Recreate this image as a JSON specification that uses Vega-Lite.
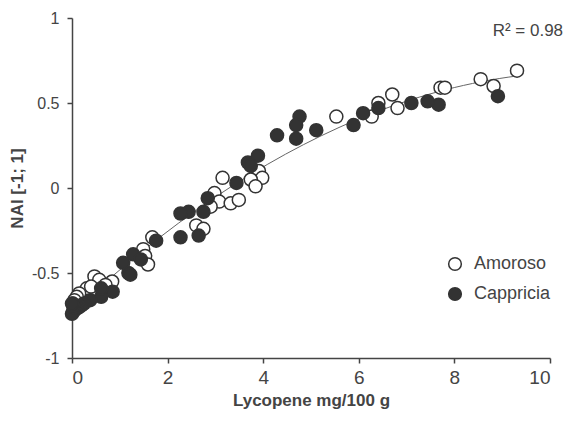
{
  "$schema": "https://vega.github.io/schema/vega-lite/v6.json",
  "width": 478,
  "height": 340,
  "autosize": {"type": "none"},
  "padding": {"left": 72, "top": 18, "right": 26, "bottom": 63},
  "background": "white",
  "config": {
    "view": {"stroke": null},
    "font": "Liberation Sans",
    "axis": {"grid": false, "domainColor": "#444", "domainWidth": 1.5, "tickColor": "#444", "tickWidth": 1.5, "tickSize": 5, "labelColor": "#444", "titleColor": "#444", "labelFont": "Liberation Sans", "titleFont": "Liberation Sans"}
  },
  "datasets": {
    "pts": [
      {"Lyc": 9.31, "NAI": 0.69, "Cultivar": "Amoroso"},
      {"Lyc": 8.55, "NAI": 0.64, "Cultivar": "Amoroso"},
      {"Lyc": 8.82, "NAI": 0.6, "Cultivar": "Amoroso"},
      {"Lyc": 7.71, "NAI": 0.59, "Cultivar": "Amoroso"},
      {"Lyc": 7.8, "NAI": 0.59, "Cultivar": "Amoroso"},
      {"Lyc": 6.7, "NAI": 0.55, "Cultivar": "Amoroso"},
      {"Lyc": 6.41, "NAI": 0.5, "Cultivar": "Amoroso"},
      {"Lyc": 6.81, "NAI": 0.47, "Cultivar": "Amoroso"},
      {"Lyc": 6.27, "NAI": 0.42, "Cultivar": "Amoroso"},
      {"Lyc": 5.53, "NAI": 0.42, "Cultivar": "Amoroso"},
      {"Lyc": 3.91, "NAI": 0.1, "Cultivar": "Amoroso"},
      {"Lyc": 3.98, "NAI": 0.06, "Cultivar": "Amoroso"},
      {"Lyc": 3.74, "NAI": 0.05, "Cultivar": "Amoroso"},
      {"Lyc": 3.84, "NAI": 0.01, "Cultivar": "Amoroso"},
      {"Lyc": 3.15, "NAI": 0.06, "Cultivar": "Amoroso"},
      {"Lyc": 2.98, "NAI": -0.03, "Cultivar": "Amoroso"},
      {"Lyc": 3.08, "NAI": -0.08, "Cultivar": "Amoroso"},
      {"Lyc": 2.9, "NAI": -0.11, "Cultivar": "Amoroso"},
      {"Lyc": 3.32, "NAI": -0.09, "Cultivar": "Amoroso"},
      {"Lyc": 3.49, "NAI": -0.07, "Cultivar": "Amoroso"},
      {"Lyc": 2.6, "NAI": -0.22, "Cultivar": "Amoroso"},
      {"Lyc": 2.75, "NAI": -0.24, "Cultivar": "Amoroso"},
      {"Lyc": 1.68, "NAI": -0.29, "Cultivar": "Amoroso"},
      {"Lyc": 1.49, "NAI": -0.36, "Cultivar": "Amoroso"},
      {"Lyc": 1.53, "NAI": -0.4, "Cultivar": "Amoroso"},
      {"Lyc": 1.59, "NAI": -0.45, "Cultivar": "Amoroso"},
      {"Lyc": 0.47, "NAI": -0.52, "Cultivar": "Amoroso"},
      {"Lyc": 0.57, "NAI": -0.54, "Cultivar": "Amoroso"},
      {"Lyc": 0.84, "NAI": -0.55, "Cultivar": "Amoroso"},
      {"Lyc": 0.31, "NAI": -0.59, "Cultivar": "Amoroso"},
      {"Lyc": 0.4, "NAI": -0.58, "Cultivar": "Amoroso"},
      {"Lyc": 0.7, "NAI": -0.57, "Cultivar": "Amoroso"},
      {"Lyc": 0.15, "NAI": -0.62, "Cultivar": "Amoroso"},
      {"Lyc": 0.1, "NAI": -0.64, "Cultivar": "Amoroso"},
      {"Lyc": 0.05, "NAI": -0.66, "Cultivar": "Amoroso"},
      {"Lyc": 0.02, "NAI": -0.68, "Cultivar": "Amoroso"},
      {"Lyc": 8.91, "NAI": 0.54, "Cultivar": "Cappricia"},
      {"Lyc": 7.67, "NAI": 0.49, "Cultivar": "Cappricia"},
      {"Lyc": 7.44, "NAI": 0.51, "Cultivar": "Cappricia"},
      {"Lyc": 7.1, "NAI": 0.5, "Cultivar": "Cappricia"},
      {"Lyc": 6.41, "NAI": 0.47, "Cultivar": "Cappricia"},
      {"Lyc": 6.09, "NAI": 0.44, "Cultivar": "Cappricia"},
      {"Lyc": 5.89, "NAI": 0.37, "Cultivar": "Cappricia"},
      {"Lyc": 5.11, "NAI": 0.34, "Cultivar": "Cappricia"},
      {"Lyc": 4.76, "NAI": 0.42, "Cultivar": "Cappricia"},
      {"Lyc": 4.69, "NAI": 0.37, "Cultivar": "Cappricia"},
      {"Lyc": 4.69, "NAI": 0.29, "Cultivar": "Cappricia"},
      {"Lyc": 4.29, "NAI": 0.31, "Cultivar": "Cappricia"},
      {"Lyc": 3.89, "NAI": 0.19, "Cultivar": "Cappricia"},
      {"Lyc": 3.68, "NAI": 0.15, "Cultivar": "Cappricia"},
      {"Lyc": 3.74, "NAI": 0.13, "Cultivar": "Cappricia"},
      {"Lyc": 3.44, "NAI": 0.03, "Cultivar": "Cappricia"},
      {"Lyc": 2.84, "NAI": -0.06, "Cultivar": "Cappricia"},
      {"Lyc": 2.75, "NAI": -0.14, "Cultivar": "Cappricia"},
      {"Lyc": 2.44, "NAI": -0.14, "Cultivar": "Cappricia"},
      {"Lyc": 2.27, "NAI": -0.15, "Cultivar": "Cappricia"},
      {"Lyc": 2.27, "NAI": -0.29, "Cultivar": "Cappricia"},
      {"Lyc": 2.65, "NAI": -0.28, "Cultivar": "Cappricia"},
      {"Lyc": 1.76, "NAI": -0.31, "Cultivar": "Cappricia"},
      {"Lyc": 1.28, "NAI": -0.39, "Cultivar": "Cappricia"},
      {"Lyc": 1.44, "NAI": -0.42, "Cultivar": "Cappricia"},
      {"Lyc": 1.07, "NAI": -0.44, "Cultivar": "Cappricia"},
      {"Lyc": 1.18, "NAI": -0.5, "Cultivar": "Cappricia"},
      {"Lyc": 1.22, "NAI": -0.51, "Cultivar": "Cappricia"},
      {"Lyc": 0.85, "NAI": -0.61, "Cultivar": "Cappricia"},
      {"Lyc": 0.61, "NAI": -0.64, "Cultivar": "Cappricia"},
      {"Lyc": 0.61, "NAI": -0.59, "Cultivar": "Cappricia"},
      {"Lyc": 0.38, "NAI": -0.66, "Cultivar": "Cappricia"},
      {"Lyc": 0.25, "NAI": -0.68, "Cultivar": "Cappricia"},
      {"Lyc": 0.2, "NAI": -0.69, "Cultivar": "Cappricia"},
      {"Lyc": 0.15, "NAI": -0.7, "Cultivar": "Cappricia"},
      {"Lyc": 0.1, "NAI": -0.71, "Cultivar": "Cappricia"},
      {"Lyc": 0.05, "NAI": -0.72, "Cultivar": "Cappricia"},
      {"Lyc": 0.02, "NAI": -0.73, "Cultivar": "Cappricia"},
      {"Lyc": 0.0, "NAI": -0.74, "Cultivar": "Cappricia"},
      {"Lyc": 0.03, "NAI": -0.7, "Cultivar": "Cappricia"},
      {"Lyc": 0.0, "NAI": -0.68, "Cultivar": "Cappricia"}
    ],
    "ann": [{"Lyc": 8.8, "NAI": 0.926, "label": "R² = 0.98"}]
  },
  "layer": [
    {
      "data": {"name": "pts"},
      "transform": [{"regression": "NAI", "on": "Lyc", "method": "poly", "order": 2}],
      "mark": {"type": "line", "color": "#666", "strokeWidth": 1},
      "encoding": {
        "x": {"field": "Lyc", "type": "quantitative"},
        "y": {"field": "NAI", "type": "quantitative"}
      }
    },
    {
      "data": {"name": "pts"},
      "mark": {"type": "point", "shape": "circle", "filled": true, "size": 170, "stroke": "#333", "strokeWidth": 1.5, "opacity": 1},
      "encoding": {
        "x": {
          "field": "Lyc", "type": "quantitative",
          "scale": {"domain": [0, 10], "nice": false},
          "axis": {"values": [0, 2, 4, 6, 8, 10], "title": "Lycopene mg/100 g", "labelFontSize": 19, "titleFontSize": 17, "titleFontWeight": "bold", "labelPadding": 5, "titlePadding": 5}
        },
        "y": {
          "field": "NAI", "type": "quantitative",
          "scale": {"domain": [-1, 1], "nice": false},
          "axis": {"values": [-1, -0.5, 0, 0.5, 1], "labelExpr": "'' + datum.value", "title": "NAI [-1; 1]", "labelFontSize": 16, "titleFontSize": 17, "titleFontWeight": "bold", "labelPadding": 8, "titlePadding": 5}
        },
        "fill": {
          "field": "Cultivar", "type": "nominal",
          "scale": {"domain": ["Amoroso", "Cappricia"], "range": ["white", "#333"]},
          "legend": {"title": null, "orient": "none", "legendX": 374, "legendY": 237, "labelFontSize": 18, "labelColor": "#444", "symbolSize": 160, "symbolStrokeColor": "#333", "symbolStrokeWidth": 1.5, "rowPadding": 10, "labelOffset": 10, "symbolType": "circle"}
        }
      }
    },
    {
      "data": {"name": "ann"},
      "mark": {"type": "text", "align": "left", "baseline": "middle", "fontSize": 17, "color": "#444"},
      "encoding": {
        "x": {"field": "Lyc", "type": "quantitative"},
        "y": {"field": "NAI", "type": "quantitative"},
        "text": {"field": "label"}
      }
    }
  ]
}
